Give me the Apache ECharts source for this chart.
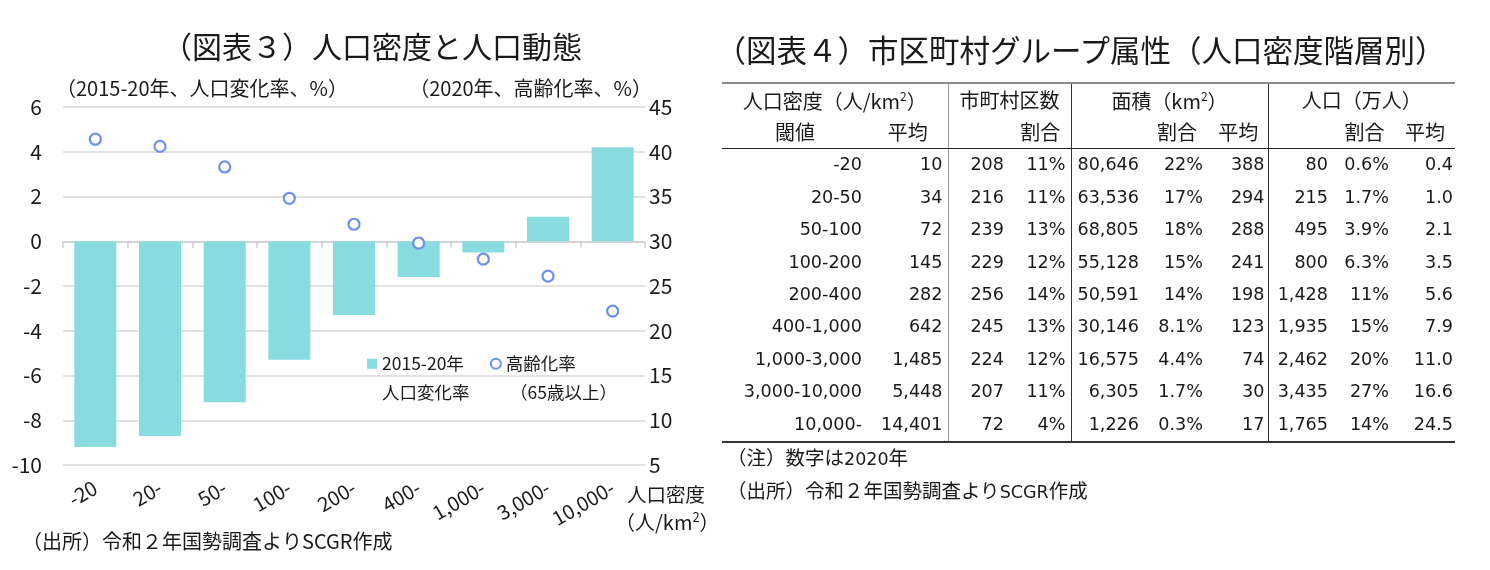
<!DOCTYPE html>
<html><head><meta charset="utf-8">
<script src="https://cdn.jsdelivr.net/npm/echarts@6/dist/echarts.min.js"></script>
<style>
body{margin:0;width:1490px;height:570px;background:#fff;font-family:"Noto Sans CJK JP",sans-serif;position:relative;overflow:hidden;color:#1a1a1a}
#chart{position:absolute;left:0;top:0;width:730px;height:570px}
#ttl2{position:absolute;left:714px;top:31px;width:733px;text-align:center;font-size:30.5px;line-height:36px;white-space:nowrap}
#tbl{position:absolute;left:722px;top:82px;border-collapse:collapse;table-layout:fixed;font-family:"DejaVu Sans","Noto Sans CJK JP",sans-serif;font-size:17.6px;line-height:1;border-top:2px solid #8c8c8c;border-bottom:2px solid #333}
#tbl td{padding:0;vertical-align:middle;text-align:right;white-space:nowrap;overflow:visible}
#tbl tr.h td{text-align:center;font-family:"Noto Sans CJK JP",sans-serif;font-size:20px;height:32px}
#tbl tr.h2 td{border-bottom:1.5px solid #222}
#tbl tr.d td{height:32.4px}
#tbl td.bl{border-right:1.5px solid #9a9a9a}
#tbl td.bd{border-right:1.5px solid #333}
#tbl sup{font-size:12px;vertical-align:8px}
.note{position:absolute;left:727px;font-size:19.5px;white-space:nowrap;font-family:"Noto Sans CJK JP",sans-serif}
.note span{font-family:"DejaVu Sans",sans-serif;font-size:17.5px}
</style></head>
<body>
<div id="chart"></div>
<div id="ttl2">（図表４）市区町村グループ属性（人口密度階層別）</div>
<table id="tbl"></table>
<div class="note" style="top:442px">（注）数字は<span>2020</span>年</div>
<div class="note" style="top:475px">（出所）令和２年国勢調査より<span>SCGR</span>作成</div>
<script>
// ---- chart data (図表３) ----
const categories = ['-20','20-','50-','100-','200-','400-','1,000-','3,000-','10,000-'];
const popChange = [-9.2, -8.7, -7.2, -5.3, -3.3, -1.6, -0.5, 1.1, 4.2];
const agingRate = [41.4, 40.6, 38.3, 34.8, 31.9, 29.8, 28.0, 26.1, 22.2];

// ---- table data (図表４) ----
const thresholds = ['-20','20-50','50-100','100-200','200-400','400-1,000','1,000-3,000','3,000-10,000','10,000-'];
const densityAvg = ['10','34','72','145','282','642','1,485','5,448','14,401'];
const muniCount = ['208','216','239','229','256','245','224','207','72'];
const muniShare = ['11%','11%','13%','12%','14%','13%','12%','11%','4%'];
const areaVal = ['80,646','63,536','68,805','55,128','50,591','30,146','16,575','6,305','1,226'];
const areaShare = ['22%','17%','18%','15%','14%','8.1%','4.4%','1.7%','0.3%'];
const areaAvg = ['388','294','288','241','198','123','74','30','17'];
const popVal = ['80','215','495','800','1,428','1,935','2,462','3,435','1,765'];
const popShare = ['0.6%','1.7%','3.9%','6.3%','11%','15%','20%','27%','14%'];
const popAvg = ['0.4','1.0','2.1','3.5','5.6','7.9','11.0','16.6','24.5'];

// ---- build table ----
(function(){
  const widths = [146,80,62,61,74,64,59,66,61,60];
  const pads = [6,5,6,5,6,6,3,6,6,2];
  const cls = ['','bl','','bd','','','bd','','',''];
  const cols = [thresholds,densityAvg,muniCount,muniShare,areaVal,areaShare,areaAvg,popVal,popShare,popAvg];
  let h = '<colgroup>' + widths.map(w=>'<col style="width:'+w+'px">').join('') + '</colgroup>';
  h += '<tr class="h"><td colspan="2" class="bl">人口密度（人/km<sup>2</sup>）</td><td colspan="2" class="bd">市町村区数</td><td colspan="3" class="bd">面積（km<sup>2</sup>）</td><td colspan="3">人口（万人）</td></tr>';
  const h2 = ['閾値','平均','','割合','','割合','平均','','割合','平均'];
  h += '<tr class="h h2">' + h2.map((t,i)=>'<td class="'+cls[i]+'">'+t+'</td>').join('') + '</tr>';
  for(let r=0;r<thresholds.length;r++){
    h += '<tr class="d">' + cols.map((c,i)=>'<td class="'+cls[i]+'" style="padding-right:'+pads[i]+'px">'+c[r]+'</td>').join('') + '</tr>';
  }
  document.getElementById('tbl').innerHTML = h;
})();

// ---- chart ----
const FONT = '"Noto Sans CJK JP", sans-serif';
const TXT = '#1a1a1a';
const chart = echarts.init(document.getElementById('chart'), null, {renderer:'canvas'});
function txt(x, y, text, size, align){
  return {type:'text', x:x, y:y, silent:true, style:{text:text, fontSize:size, fontFamily:FONT, fill:TXT, align:align||'left', verticalAlign:'middle'}};
}
chart.setOption({
  animation:false,
  textStyle:{fontFamily:FONT},
  title:{text:'（図表３）人口密度と人口動態', left:367, top:27, textAlign:'center',
    textStyle:{fontSize:30, fontWeight:'normal', color:TXT, fontFamily:FONT}},
  grid:{left:63, right:85, top:107, bottom:105},
  legend:{left:362, top:350, itemGap:26, itemWidth:10, itemHeight:10,
    textStyle:{fontSize:17.5, color:TXT, fontFamily:FONT},
    data:[{name:'2015-20年', icon:'rect'},{name:'高齢化率', icon:'circle'}]},
  xAxis:[
    {type:'category', data:categories, position:'bottom',
      axisLine:{show:false, onZero:false}, axisTick:{show:false},
      axisLabel:{rotate:30, fontSize:20, color:TXT, margin:21, interval:0, fontFamily:FONT}},
    {type:'category', data:categories, position:'bottom',
      axisLine:{show:true, onZero:true, onZeroAxisIndex:0, lineStyle:{color:'#d0d0d0', width:1.5}},
      axisTick:{show:true, length:7, lineStyle:{color:'#d0d0d0', width:1.5}},
      axisLabel:{show:false}}
  ],
  yAxis:[
    {type:'value', min:-10, max:6, interval:2,
      axisLine:{show:false}, axisTick:{show:false},
      axisLabel:{fontSize:21, color:TXT, margin:21, fontFamily:FONT},
      splitLine:{lineStyle:{color:'#d9d9d9', width:1.5}}},
    {type:'value', min:5, max:45, interval:5, position:'right',
      axisLine:{show:false}, axisTick:{show:false},
      axisLabel:{fontSize:21, color:TXT, margin:4, fontFamily:FONT},
      splitLine:{show:false}}
  ],
  series:[
    {type:'bar', name:'2015-20年', data:popChange, xAxisIndex:0, yAxisIndex:0, barWidth:'65%',
      itemStyle:{color:'#88dcdf'}},
    {type:'scatter', name:'高齢化率', data:agingRate, xAxisIndex:0, yAxisIndex:1,
      symbol:'circle', symbolSize:11,
      itemStyle:{color:'#ffffff', borderColor:'#6d8ff3', borderWidth:2.2, opacity:1}}
  ],
  graphic:[
    txt(56, 88, '（2015-20年、人口変化率、%）', 20, 'left'),
    txt(652, 88, '（2020年、高齢化率、%）', 20, 'right'),
    txt(382, 392, '人口変化率', 17.5, 'left'),
    txt(510, 392, '（65歳以上）', 17.5, 'left'),
    txt(627, 495, '人口密度', 19.5, 'left'),
    {type:'text', x:615, y:522, silent:true, style:{text:'（人/km{sup|2}）', fontSize:20, fontFamily:FONT, fill:TXT, align:'left', verticalAlign:'middle',
      rich:{sup:{fontSize:13, fontFamily:FONT, fill:TXT, verticalAlign:'top', padding:[0,0,10,0]}}}},
    txt(22, 541, '（出所）令和２年国勢調査よりSCGR作成', 20, 'left')
  ]
});
</script>
</body></html>
